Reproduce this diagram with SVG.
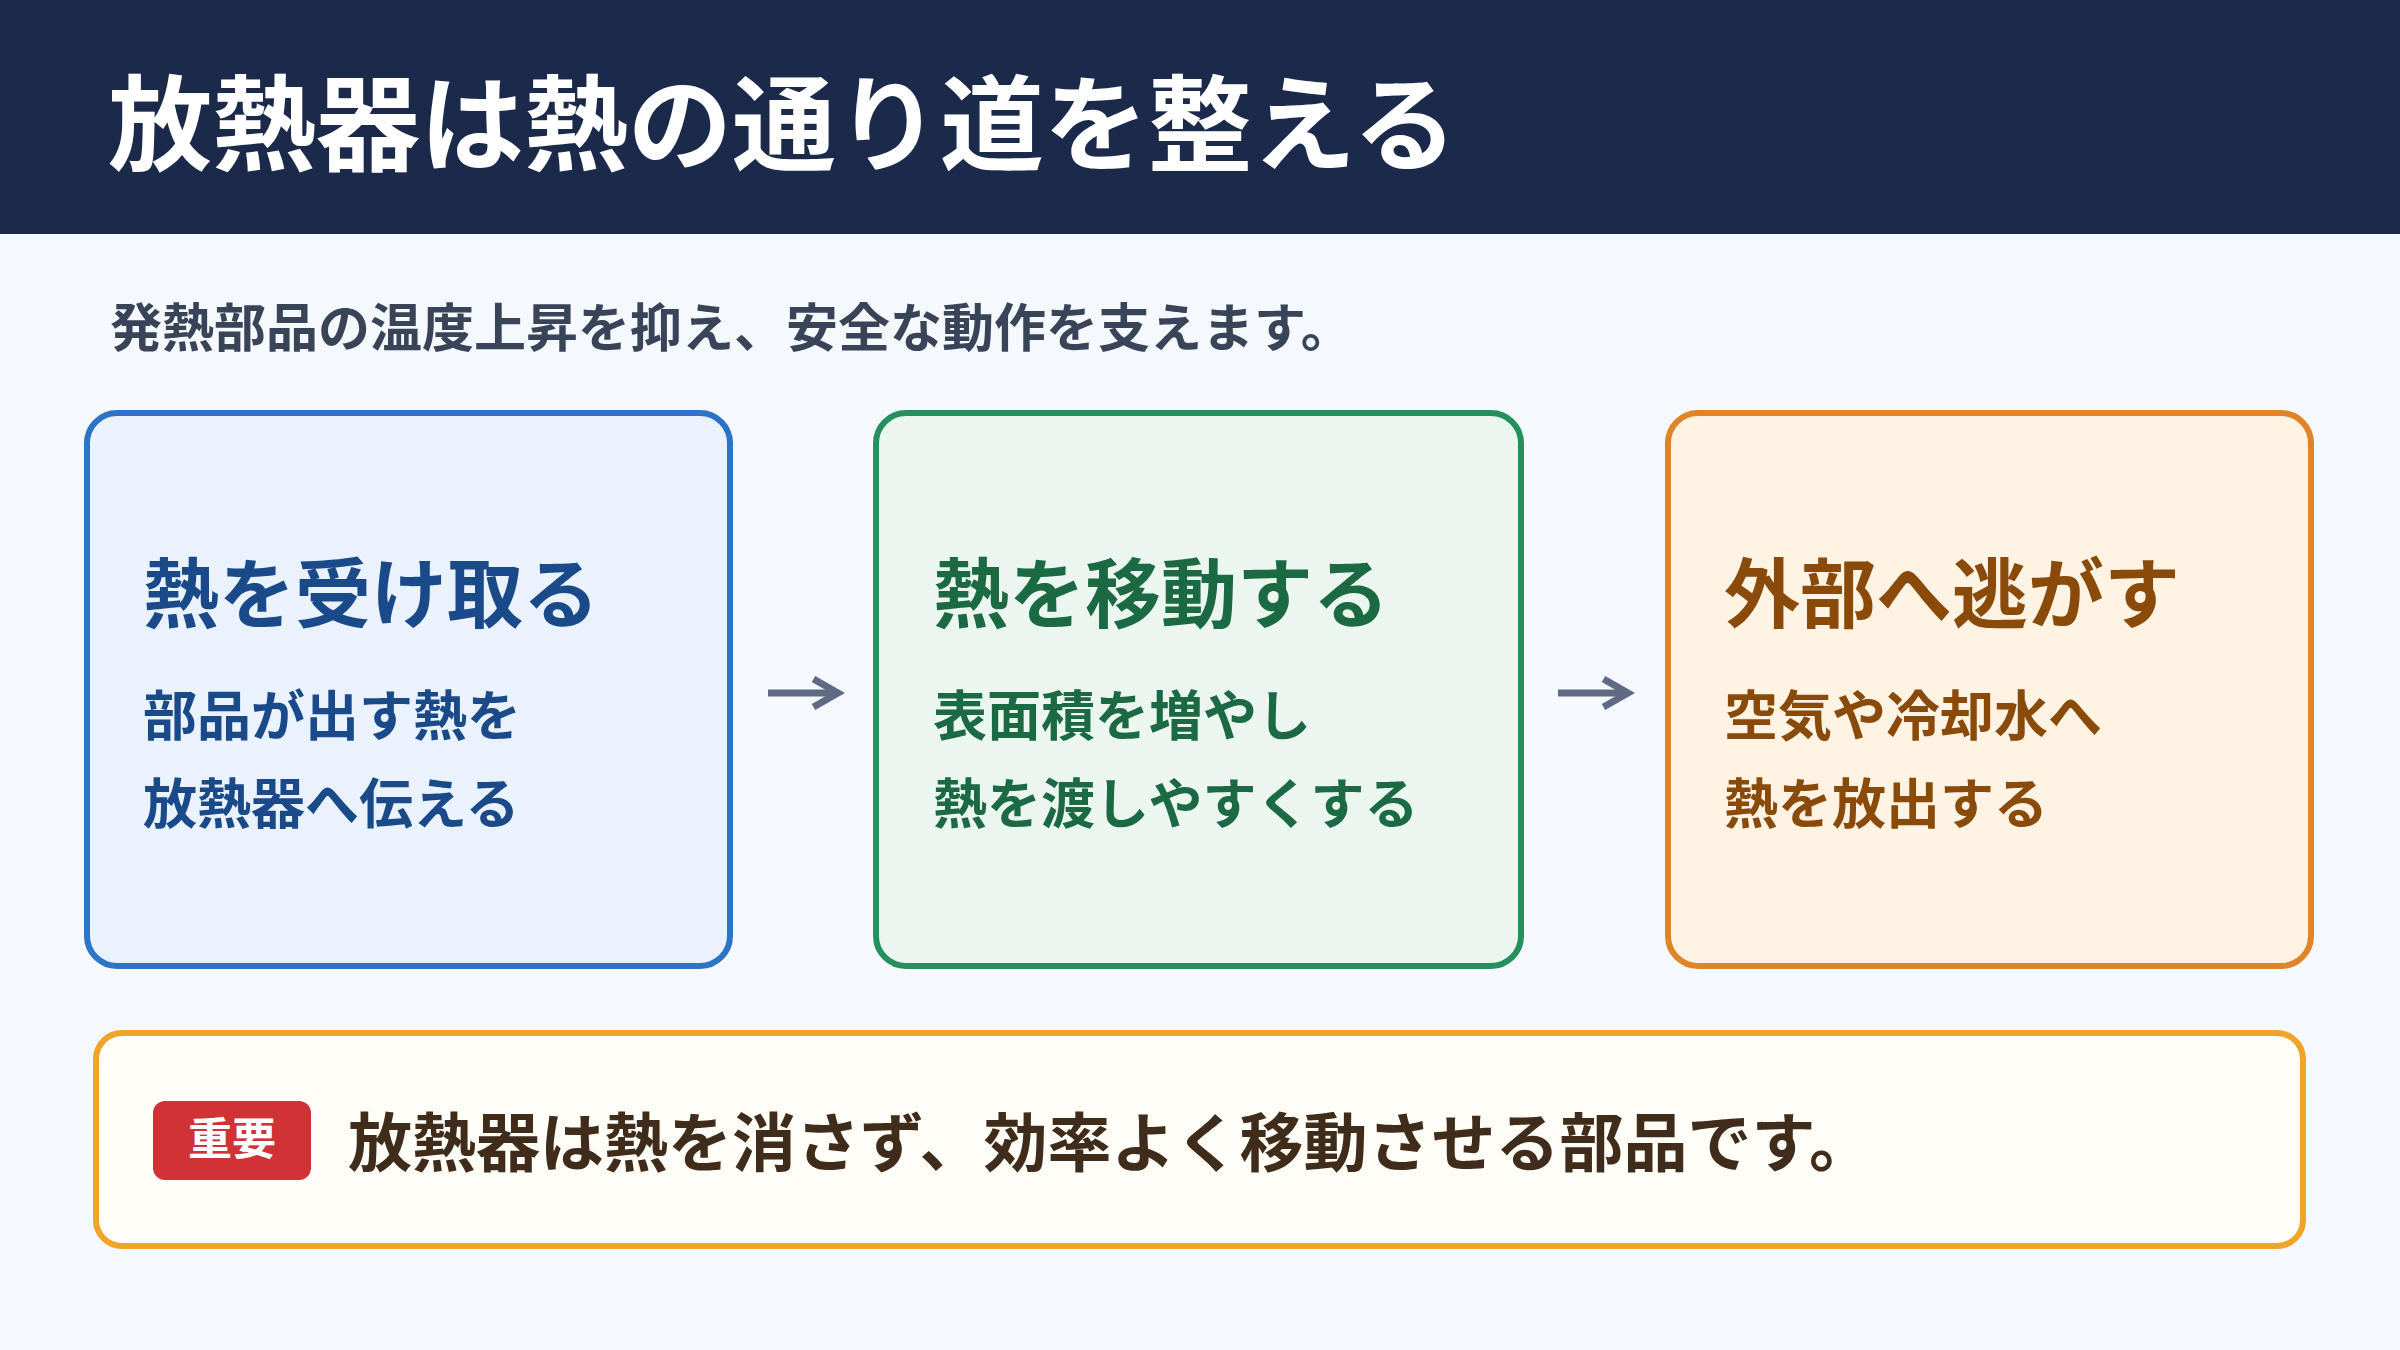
<svg xmlns="http://www.w3.org/2000/svg" width="2400" height="1350" viewBox="0 0 2400 1350">
<defs>
<style>
text{font-family:"Noto Sans CJK JP","Noto Sans",sans-serif;font-weight:700}
.t{font-size:76px}.b{font-size:54px}
</style>
<marker id="ah" viewBox="0 0 10 10" refX="8" refY="5" markerWidth="5" markerHeight="5" orient="auto"><path d="M1,1 L8,5 L1,9" fill="none" stroke="#5f6b85" stroke-width="2"/></marker>
</defs>
<rect width="2400" height="1350" fill="#f5f8fc"/>
<g id="header"><rect width="2400" height="234" fill="#1b2a4a"/>
<text x="108" y="163" font-size="104" fill="#fff">放熱器は熱の通り道を整える</text></g>
<text x="110" y="347" font-size="52" fill="#3a4458" font-weight="500">発熱部品の温度上昇を抑え、安全な動作を支えます。</text>
<g id="n1"><rect x="87" y="413" width="643" height="553" rx="30" fill="#eaf2fd" stroke="#2b74c8" stroke-width="6"/>
<text class="t" x="143" y="622" fill="#1a4a8a">熱を受け取る</text>
<text class="b" x="143" y="736" fill="#1a4a8a">部品が出す熱を</text>
<text class="b" x="143" y="824" fill="#1a4a8a">放熱器へ伝える</text></g>
<g id="n2"><rect x="876" y="413" width="645" height="553" rx="30" fill="#ecf6f0" stroke="#23905e" stroke-width="6"/>
<text class="t" x="933" y="622" fill="#1b6a44">熱を移動する</text>
<text class="b" x="933" y="736" fill="#1b6a44">表面積を増やし</text>
<text class="b" x="933" y="824" fill="#1b6a44">熱を渡しやすくする</text></g>
<g id="n3"><rect x="1668" y="413" width="643" height="553" rx="30" fill="#fff3e4" stroke="#e08428" stroke-width="6"/>
<text class="t" x="1724" y="622" fill="#8a4a0a">外部へ逃がす</text>
<text class="b" x="1724" y="736" fill="#8a4a0a">空気や冷却水へ</text>
<text class="b" x="1724" y="824" fill="#8a4a0a">熱を放出する</text></g>
<g id="connectors" stroke="#5f6b85" stroke-width="7" fill="none">
<line x1="768" y1="693" x2="838" y2="693" marker-end="url(#ah)"/>
<line x1="1558" y1="693" x2="1628" y2="693" marker-end="url(#ah)"/>
</g>
<g id="note"><rect x="96" y="1033" width="2207" height="213" rx="26" fill="#fffdf7" stroke="#f0a428" stroke-width="6"/>
<rect x="153" y="1101" width="158" height="79" rx="12" fill="#d03236"/>
<text x="232" y="1155" font-size="44" fill="#fff" text-anchor="middle">重要</text>
<text x="348" y="1166" font-size="64" fill="#3f2c1a">放熱器は熱を消さず、効率よく移動させる部品です。</text></g>
</svg>
